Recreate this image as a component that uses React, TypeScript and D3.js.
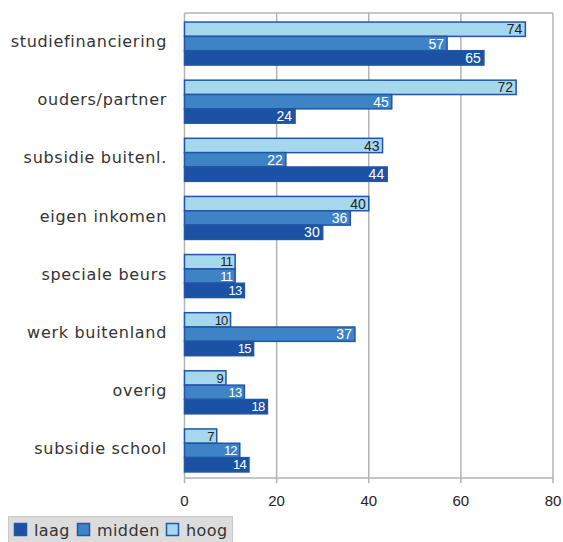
import React, { useRef, useEffect } from 'react'
import * as d3 from 'd3'

const categories = [
  'studiefinanciering',
  'ouders/partner',
  'subsidie buitenl.',
  'eigen inkomen',
  'speciale beurs',
  'werk buitenland',
  'overig',
  'subsidie school'
]

const hoog = [74, 72, 43, 40, 11, 10, 9, 7]
const midden = [57, 45, 22, 36, 11, 37, 13, 12]
const laag = [65, 24, 44, 30, 13, 15, 18, 14]

const xTicks = [0, 20, 40, 60, 80]

const seriesNames = ['hoog', 'midden', 'laag']
const legendOrder = ['laag', 'midden', 'hoog']

const colors: Record<string, string> = {
  laag: '#1b52a4',
  midden: '#3e83c5',
  hoog: '#a5d8ec'
}

const App: React.FC = () => {
  const svgRef = useRef<SVGSVGElement>(null)

  useEffect(() => {
    if (!svgRef.current) return
    const svg = d3.select(svgRef.current)
    svg.selectAll('*').remove()

    const width = 563
    const height = 542
    const left = 184.5
    const right = 553
    const top = 13
    const bottom = 478

    svg.attr('width', width).attr('height', height)

    const x = d3.scaleLinear().domain([0, 80]).range([left, right])
    // groups sit a touch below the band centre in the original
    const y = d3.scaleBand<string>().domain(categories).range([top + 1.5, bottom + 1.5]).paddingInner(0.26).paddingOuter(0.13)
    const ySub = d3.scaleBand<string>().domain(seriesNames).range([0, y.bandwidth()])

    const data: Record<string, number[]> = { hoog, midden, laag }

    // grid + frame
    const grid = svg.append('g')
    grid.selectAll('line.grid')
      .data(xTicks.slice(1))
      .enter()
      .append('line')
      .attr('x1', d => x(d))
      .attr('x2', d => x(d))
      .attr('y1', top)
      .attr('y2', bottom)
      .attr('stroke', '#b3b3b3')
      .attr('stroke-width', 1.5)

    grid.append('line')
      .attr('x1', left).attr('x2', right)
      .attr('y1', top).attr('y2', top)
      .attr('stroke', '#b3b3b3')
      .attr('stroke-width', 1.5)

    grid.append('line')
      .attr('x1', left).attr('x2', left)
      .attr('y1', top).attr('y2', bottom)
      .attr('stroke', '#b3b3b3')
      .attr('stroke-width', 1.5)

    // x axis
    grid.append('line')
      .attr('x1', left).attr('x2', right)
      .attr('y1', bottom).attr('y2', bottom)
      .attr('stroke', '#b3b3b3')
      .attr('stroke-width', 1.5)

    grid.selectAll('line.tick')
      .data(xTicks)
      .enter()
      .append('line')
      .attr('x1', d => x(d))
      .attr('x2', d => x(d))
      .attr('y1', bottom)
      .attr('y2', bottom + 5)
      .attr('stroke', '#b3b3b3')
      .attr('stroke-width', 1.5)

    svg.selectAll('text.xlabel')
      .data(xTicks)
      .enter()
      .append('text')
      .attr('x', d => x(d))
      .attr('y', 506)
      .attr('text-anchor', 'middle')
      .style('font-family', 'Liberation Sans, Arial, sans-serif')
      .style('font-size', '15px')
      .style('fill', '#222')
      .text(d => d)

    // category labels
    svg.selectAll('text.cat')
      .data(categories)
      .enter()
      .append('text')
      .attr('x', 167)
      .attr('y', d => (y(d) as number) + y.bandwidth() / 2 - 2)
      .attr('dy', '0.35em')
      .attr('text-anchor', 'end')
      .style('font-family', 'DejaVu Sans, sans-serif')
      .style('font-size', '16px')
      .style('letter-spacing', '0.7px')
      .style('fill', '#333')
      .text(d => d)

    // bars
    seriesNames.forEach(s => {
      const g = svg.append('g')
      categories.forEach((c, i) => {
        const v = data[s][i]
        const by = (y(c) as number) + (ySub(s) as number)
        const bh = ySub.bandwidth()
        g.append('rect')
          .attr('x', x(0))
          .attr('y', by)
          .attr('width', x(v) - x(0))
          .attr('height', bh)
          .attr('fill', colors[s])
          .attr('stroke', '#2155a8')
          .attr('stroke-width', 1.5)
        g.append('text')
          .attr('x', x(v) - 3)
          .attr('y', by + bh / 2)
          .attr('dy', '0.36em')
          .attr('text-anchor', 'end')
          .style('font-family', 'Liberation Sans, Arial, sans-serif')
          .style('font-size', v < 20 ? '13px' : '14px')
          .style('letter-spacing', v < 20 ? '-0.8px' : '0px')
          .style('fill', s === 'hoog' ? '#222' : '#fff')
          .text(v)
      })
    })

    // legend
    const legend = svg.append('g')
    legend.append('rect')
      .attr('x', 8.5)
      .attr('y', 516.5)
      .attr('width', 224)
      .attr('height', 26)
      .attr('fill', '#dcdcdc')
      .attr('stroke', '#c8c8c8')

    const legendX = [14, 77, 166]
    legendOrder.forEach((s, i) => {
      legend.append('rect')
        .attr('x', legendX[i] + 0.5)
        .attr('y', 523.5)
        .attr('width', 12)
        .attr('height', 12)
        .attr('fill', colors[s])
        .attr('stroke', '#2155a8')
        .attr('stroke-width', 1.5)
      legend.append('text')
        .attr('x', legendX[i] + 20)
        .attr('y', 530)
        .attr('dy', '0.35em')
        .style('font-family', 'DejaVu Sans, sans-serif')
        .style('font-size', '16px')
        .style('letter-spacing', '0.4px')
        .style('fill', '#333')
        .text(s)
    })
  }, [])

  return (
    <svg ref={svgRef} style={{ position: 'absolute', left: 0, top: 0, background: '#fff' }}></svg>
  )
}

export default App
